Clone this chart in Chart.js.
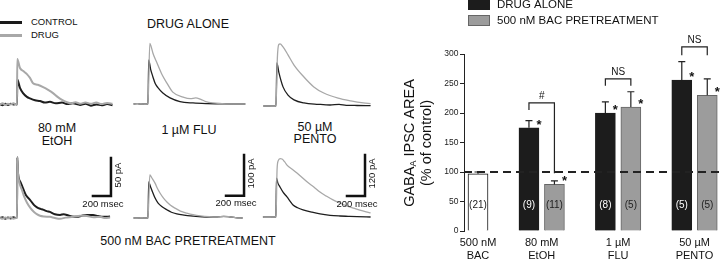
<!DOCTYPE html>
<html>
<head>
<meta charset="utf-8">
<script src="https://cdn.jsdelivr.net/npm/chart.js@4.4.1/dist/chart.umd.min.js"></script>
<style>
  html, body { margin: 0; padding: 0; background: #fff; }
  body { width: 720px; height: 261px; position: relative; overflow: hidden;
         font-family: "Liberation Sans", Arial, Helvetica, sans-serif; color: #111; }
  canvas { position: absolute; }
  .lbl { position: absolute; white-space: nowrap; line-height: 1; transform: translate(-50%, -50%); }
  .lft { transform: translate(0, -50%); }
  .sw { position: absolute; left: 0; width: 22px; height: 3px; }
</style>
</head>
<body>
<div class="sw" style="top:21px;background:#1a1a1a"></div>
<div class="sw" style="top:34px;background:#a8a8a8"></div>
<div class="lbl lft" style="left:31px;top:22px;font-size:9.5px">CONTROL</div>
<div class="lbl lft" style="left:31px;top:35px;font-size:9.5px">DRUG</div>
<div class="lbl" style="left:188px;top:24px;font-size:12.5px">DRUG ALONE</div>
<div class="lbl" style="left:57px;top:128px;font-size:12.5px">80 mM</div>
<div class="lbl" style="left:57px;top:141px;font-size:12.5px">EtOH</div>
<div class="lbl" style="left:189px;top:130px;font-size:12.5px">1 µM FLU</div>
<div class="lbl" style="left:315px;top:127px;font-size:12.5px">50 µM</div>
<div class="lbl" style="left:315px;top:139px;font-size:12.5px">PENTO</div>
<div class="lbl" style="left:188px;top:241px;font-size:12.5px">500 nM BAC PRETREATMENT</div>

<canvas id="tEtohTop"></canvas>
<canvas id="tFluTop"></canvas>
<canvas id="tPentoTop"></canvas>
<canvas id="tEtohBac"></canvas>
<canvas id="tFluBac"></canvas>
<canvas id="tPentoBac"></canvas>
<canvas id="bars" width="330" height="261" style="left:390px;top:0"></canvas>

<script>
// ---- bar chart values (% of control) ----
const categories = [['500 nM', 'BAC'], ['80 mM', 'EtOH'], ['1 µM', 'FLU'], ['50 µM', 'PENTO']];
const bacAlone = [97];
const bacAloneErr = [3];
const bacAloneN = ['(21)'];
const drugAlone = [175, 200, 256];
const drugAloneErr = [12, 19, 31];
const drugAloneN = ['(9)', '(8)', '(5)'];
const drugAloneMark = ['*', '*', '*'];
const bacPre = [79, 210, 230];
const bacPreErr = [6, 26, 28];
const bacPreN = ['(11)', '(5)', '(5)'];
const bacPreMark = ['*', '*', '*'];
const controlLevel = 100;
const bracketText = ['#', 'NS', 'NS'];
const bracketTop = [217, 258, 312];
const bracketLeftEnd = [205, 246, 298];
const bracketRightEnd = [98, 246, 298];

// ---- IPSC traces: [ms from stimulus, pA] ----
const etohAloneCtl = [[-190,0.5],[-160,-1],[-130,1],[-100,-0.5],[-70,1],[-40,0],[-10,0.5],[0,0],[3,33],[33,22],[67,15],[110,10],[144,8],[200,5.5],[255,4.5],[310,2.5],[366,3.5],[430,1.5],[500,2.5],[560,0.5],[620,1.5],[700,-0.5],[760,1],[820,-1.5],[880,0],[940,-1],[1000,0.5],[1060,-1]];
const etohAloneDrug = [[-190,0],[-160,1.5],[-130,-0.5],[-100,1],[-70,0],[-40,1.5],[-10,0],[0,0],[3,60],[33,48],[70,44],[110,40],[144,35],[178,28],[230,26],[290,23],[350,19],[400,15],[450,10],[500,6],[555,3],[600,1.5],[650,3],[700,1],[760,2.5],[820,1],[880,2.5],[940,0.5],[1000,2],[1060,1]];
const fluAloneCtl = [[-160,0],[-120,1],[-80,-0.5],[-40,0.5],[0,0],[8,107],[30,84],[55,66],[80,50],[110,40],[165,27],[245,15],[355,6],[500,2.5],[650,1],[800,0.5],[950,0],[1080,0]];
const fluAloneDrug = [[-160,0],[-120,1],[-80,-0.5],[-40,0.5],[0,0],[20,148],[35,140],[55,124],[100,100],[155,72],[210,51],[275,29],[390,17],[470,13],[530,15],[580,12],[640,6],[720,2.5],[820,1],[950,0],[1080,0]];
const pentoAloneCtl = [[-140,0],[-80,0],[-30,0.5],[0,0],[10,126],[33,97],[78,56],[133,32],[200,18],[310,9],[470,5],[600,3],[700,5],[780,2],[900,1.5],[1050,1]];
const pentoAloneDrug = [[-140,0],[-80,0],[-30,0.5],[0,0],[15,140],[30,180],[45,182],[78,173],[133,150],[200,120],[310,85],[420,56],[530,38],[690,23],[830,15],[970,9],[1050,7]];
const etohBacCtl = [[-190,0],[-160,1],[-130,-1],[-100,0.5],[-70,-0.5],[-40,1],[-10,0],[0,0],[3,80],[11,59],[40,47],[67,39],[100,30],[144,24],[190,17],[222,14],[260,12],[289,11],[330,9],[366,8],[420,5],[478,4],[520,5],[555,4],[610,2],[666,1.5],[720,3],[780,4],[844,4],[900,2.5],[960,1.5],[1033,2]];
const etohBacDrug = [[-190,0],[-160,-1],[-130,0.5],[-100,-0.5],[-70,1],[-40,-1],[-10,0],[0,0],[3,80],[11,59],[30,45],[55,37],[80,28],[111,20],[150,13],[189,8],[220,5],[255,3],[300,2],[366,1.5],[420,0],[478,-1],[540,0.5],[622,1.5],[700,3],[777,2.5],[850,1],[922,1.5],[980,0],[1033,0.5]];
const fluBacCtl = [[-160,0],[-120,0.5],[-80,-0.5],[-40,0],[0,0],[8,88],[30,75],[55,61],[80,48],[110,37],[160,27],[210,20],[260,14],[320,10],[400,7],[470,5],[600,3],[700,2.5],[770,2.5],[840,4],[900,3],[970,1],[1050,0]];
const fluBacDrug = [[-160,0],[-120,0.5],[-80,-0.5],[-40,0],[0,0],[20,105],[45,97],[78,85],[105,72],[133,61],[170,49],[210,39],[250,31],[300,24],[360,17],[430,12],[500,8],[580,5],[680,3],[770,2.5],[840,3.5],[900,3],[970,1],[1050,0]];
const pentoBacCtl = [[-145,0],[-90,0.5],[-40,0],[0,0],[5,114],[20,100],[44,88],[80,72],[122,59],[160,45],[189,35],[240,27],[300,21],[400,14],[489,9],[600,5],[710,3],[800,2],[900,1],[1050,0]];
const pentoBacDrug = [[-145,0],[-90,0.5],[-40,0],[0,0],[12,140],[25,165],[45,171],[67,170],[95,162],[122,152],[180,140],[233,129],[290,116],[344,103],[420,88],[488,73],[560,61],[633,50],[710,41],[788,32],[860,26],[930,20],[1000,15],[1050,12]];

const FONT = '"Liberation Sans", Arial, Helvetica, sans-serif';
Chart.defaults.font.family = FONT;
Chart.defaults.color = '#111';

// scale bar drawn in data units of the panel
const scaleBarPlugin = {
  id: 'scaleBar',
  afterDraw(chart, args, o) {
    if (!o || !o.ms) return;
    const {ctx, scales: {x, y}} = chart;
    const x1 = x.getPixelForValue(o.t), x0 = x.getPixelForValue(o.t - o.ms);
    const y0 = y.getPixelForValue(o.p), y1 = y.getPixelForValue(o.p + o.pA);
    ctx.save();
    ctx.strokeStyle = '#111';
    ctx.lineWidth = 2.5;
    ctx.lineCap = 'square';
    ctx.beginPath();
    ctx.moveTo(x0, y0); ctx.lineTo(x1, y0); ctx.lineTo(x1, y1);
    ctx.stroke();
    ctx.fillStyle = '#111';
    ctx.font = '9.5px ' + FONT;
    ctx.textAlign = 'center';
    ctx.textBaseline = 'middle';
    ctx.fillText(o.ms + ' msec', (x0 + x1) / 2 + 1, y0 + 8);
    ctx.translate(x1 + 7.5, (y0 + y1) / 2 - 2);
    ctx.rotate(-Math.PI / 2);
    ctx.fillText(o.pA + ' pA', 0, 0);
    ctx.restore();
  }
};

const MS_PER_PX = 11.1;
function tracePanel(id, box, stim, pAPerPx, ctl, drug, width, bar) {
  const cv = document.getElementById(id);
  cv.width = box.w; cv.height = box.h;
  cv.style.left = box.x + 'px'; cv.style.top = box.y + 'px';
  const pts = (arr) => arr.map(([t, v]) => ({x: t, y: v}));
  new Chart(cv, {
    type: 'line',
    data: {
      datasets: [
        {label: 'DRUG', data: pts(drug), borderColor: '#a8a8a8', borderWidth: width},
        {label: 'CONTROL', data: pts(ctl), borderColor: '#1e1e1e', borderWidth: width}
      ]
    },
    options: {
      responsive: false,
      animation: false,
      events: [],
      layout: {padding: 0},
      elements: {point: {radius: 0}, line: {cubicInterpolationMode: 'monotone'}},
      scales: {
        x: {type: 'linear', display: false,
            min: (box.x - stim.x) * MS_PER_PX, max: (box.x + box.w - stim.x) * MS_PER_PX},
        y: {type: 'linear', display: false,
            min: (stim.y - box.y - box.h) * pAPerPx, max: (stim.y - box.y) * pAPerPx}
      },
      plugins: {legend: {display: false}, tooltip: {enabled: false}, scaleBar: bar || {}}
    },
    plugins: [scaleBarPlugin]
  });
}

tracePanel('tEtohTop', {x: 0, y: 38, w: 125, h: 80}, {x: 17, y: 104.5}, 1.316, etohAloneCtl, etohAloneDrug, 2);
tracePanel('tFluTop', {x: 130, y: 38, w: 125, h: 80}, {x: 148, y: 104}, 2.44, fluAloneCtl, fluAloneDrug, 1.3);
tracePanel('tPentoTop', {x: 262, y: 38, w: 110, h: 80}, {x: 276, y: 106}, 2.93, pentoAloneCtl, pentoAloneDrug, 1.3);
tracePanel('tEtohBac', {x: 0, y: 145, w: 130, h: 85}, {x: 17, y: 218}, 1.316, etohBacCtl, etohBacDrug, 2,
  {t: 1043, p: 29, ms: 200, pA: 50});
tracePanel('tFluBac', {x: 130, y: 145, w: 132, h: 85}, {x: 148, y: 218}, 2.44, fluBacCtl, fluBacDrug, 1.3,
  {t: 1066, p: 54, ms: 200, pA: 100});
tracePanel('tPentoBac', {x: 262, y: 145, w: 124, h: 85}, {x: 276, y: 217}, 2.93, pentoBacCtl, pentoBacDrug, 1.3,
  {t: 988, p: 61.5, ms: 200, pA: 120});

// ---- bar chart ----
// slot layout: BAC alone at 0, then each drug pair at 3i-1 / 3i
const catPos = categories.map((c, i) => (i === 0 ? 0 : 3 * i - 0.5));

const barExtras = {
  id: 'barExtras',
  afterDatasetsDraw(chart) {
    const {ctx, chartArea: area, scales: {y}} = chart;
    const sets = [
      {meta: chart.getDatasetMeta(0), vals: bacAlone, err: bacAloneErr, n: bacAloneN, mark: [], nColor: '#222'},
      {meta: chart.getDatasetMeta(1), vals: drugAlone, err: drugAloneErr, n: drugAloneN, mark: drugAloneMark, nColor: '#fff'},
      {meta: chart.getDatasetMeta(2), vals: bacPre, err: bacPreErr, n: bacPreN, mark: bacPreMark, nColor: '#222'}
    ];
    ctx.save();
    // error bars (upper only)
    ctx.strokeStyle = '#222';
    ctx.lineWidth = 1.2;
    sets.forEach(s => s.meta.data.forEach((bar, i) => {
      const top = y.getPixelForValue(s.vals[i] + s.err[i]);
      ctx.beginPath();
      ctx.moveTo(bar.x, bar.y); ctx.lineTo(bar.x, top);
      ctx.moveTo(bar.x - 3.5, top); ctx.lineTo(bar.x + 3.5, top);
      ctx.stroke();
    }));
    // control level
    const yc = y.getPixelForValue(controlLevel);
    ctx.setLineDash([8, 5]);
    ctx.lineWidth = 2;
    ctx.beginPath(); ctx.moveTo(area.left, yc); ctx.lineTo(area.right, yc); ctx.stroke();
    ctx.setLineDash([]);
    // n labels and asterisks
    ctx.textAlign = 'center';
    sets.forEach(s => s.meta.data.forEach((bar, i) => {
      ctx.font = '10px ' + FONT;
      ctx.fillStyle = s.nColor;
      ctx.textBaseline = 'middle';
      ctx.fillText(s.n[i], bar.x, y.getPixelForValue(44));
      if (s.mark[i]) {
        ctx.font = 'bold 13px ' + FONT;
        ctx.fillStyle = '#111';
        ctx.textBaseline = 'alphabetic';
        ctx.fillText(s.mark[i], bar.x + 10, bar.y + 1);
      }
    }));
    // comparison brackets
    ctx.strokeStyle = '#222';
    ctx.lineWidth = 1.2;
    ctx.fillStyle = '#111';
    ctx.font = '10px ' + FONT;
    ctx.textBaseline = 'middle';
    bracketText.forEach((txt, g) => {
      const xl = sets[1].meta.data[g].x, xr = sets[2].meta.data[g].x;
      const yt = y.getPixelForValue(bracketTop[g]);
      ctx.beginPath();
      ctx.moveTo(xl, y.getPixelForValue(bracketLeftEnd[g]));
      ctx.lineTo(xl, yt); ctx.lineTo(xr, yt);
      ctx.lineTo(xr, y.getPixelForValue(bracketRightEnd[g]));
      ctx.stroke();
      ctx.fillText(txt, (xl + xr) / 2, yt - 7);
    });
    // legend
    const ds = chart.data.datasets;
    [1, 2].forEach((d, k) => {
      const top = -1 + k * 16;
      ctx.fillStyle = ds[d].backgroundColor;
      ctx.fillRect(78, top, 22, 11);
      ctx.strokeStyle = ds[d].borderColor;
      ctx.lineWidth = 1;
      ctx.strokeRect(78.5, top + 0.5, 21, 10);
      ctx.fillStyle = '#111';
      ctx.font = '11.5px ' + FONT;
      ctx.textAlign = 'left';
      ctx.fillText(ds[d].label, 107, top + 6);
    });
    // y title with subscript
    ctx.fillStyle = '#111';
    ctx.textBaseline = 'middle';
    ctx.save();
    ctx.translate(20, 143);
    ctx.rotate(-Math.PI / 2);
    const big = '14.5px ' + FONT, small = '9px ' + FONT;
    ctx.font = big; const w1 = ctx.measureText('GABA').width, w3 = ctx.measureText(' IPSC AREA').width;
    ctx.font = small; const w2 = ctx.measureText('A').width;
    let x0 = -(w1 + w2 + w3) / 2;
    ctx.textAlign = 'left';
    ctx.font = big; ctx.fillText('GABA', x0, 0);
    ctx.font = small; ctx.fillText('A', x0 + w1, 4);
    ctx.font = big; ctx.fillText(' IPSC AREA', x0 + w1 + w2, 0);
    ctx.restore();
    ctx.save();
    ctx.translate(37, 143);
    ctx.rotate(-Math.PI / 2);
    ctx.font = '14.5px ' + FONT;
    ctx.textAlign = 'center';
    ctx.fillText('(% of control)', 0, 0);
    ctx.restore();
    ctx.restore();
  }
};

const barDefaults = {grouped: false, barThickness: 20, borderWidth: 1};
new Chart(document.getElementById('bars'), {
  type: 'bar',
  data: {
    datasets: [
      {...barDefaults, label: '500 nM BAC', data: bacAlone.map(v => ({x: 0, y: v})),
       backgroundColor: '#ffffff', borderColor: '#111111'},
      {...barDefaults, label: 'DRUG ALONE', data: drugAlone.map((v, i) => ({x: 3 * (i + 1) - 1, y: v})),
       backgroundColor: '#1c1c1c', borderColor: '#1c1c1c'},
      {...barDefaults, label: '500 nM BAC PRETREATMENT', data: bacPre.map((v, i) => ({x: 3 * (i + 1), y: v})),
       backgroundColor: '#9c9c9c', borderColor: '#666666'}
    ]
  },
  options: {
    responsive: false,
    animation: false,
    events: [],
    layout: {padding: {left: 44, top: 54, right: 0, bottom: 0}},
    scales: {
      x: {
        type: 'linear', min: -0.55, max: 9.5, offset: false,
        grid: {display: false, drawTicks: false}, border: {display: false},
        afterBuildTicks: (axis) => { axis.ticks = catPos.map(v => ({value: v})); },
        afterFit: (axis) => { axis.height = 30; },
        ticks: {autoSkip: false, maxRotation: 0, minRotation: 0, padding: 5,
                font: {size: 11}, color: '#111',
                callback: (value, index) => categories[index]}
      },
      y: {
        min: 0, max: 300,
        afterFit: (axis) => { axis.width = 30; },
        grid: {drawOnChartArea: false, tickLength: 4, color: '#222'},
        border: {color: '#222', width: 1},
        ticks: {stepSize: 50, padding: 1.5, font: {size: 8.5}, color: '#222'}
      }
    },
    plugins: {legend: {display: false}, tooltip: {enabled: false}}
  },
  plugins: [barExtras]
});
</script>
</body>
</html>
